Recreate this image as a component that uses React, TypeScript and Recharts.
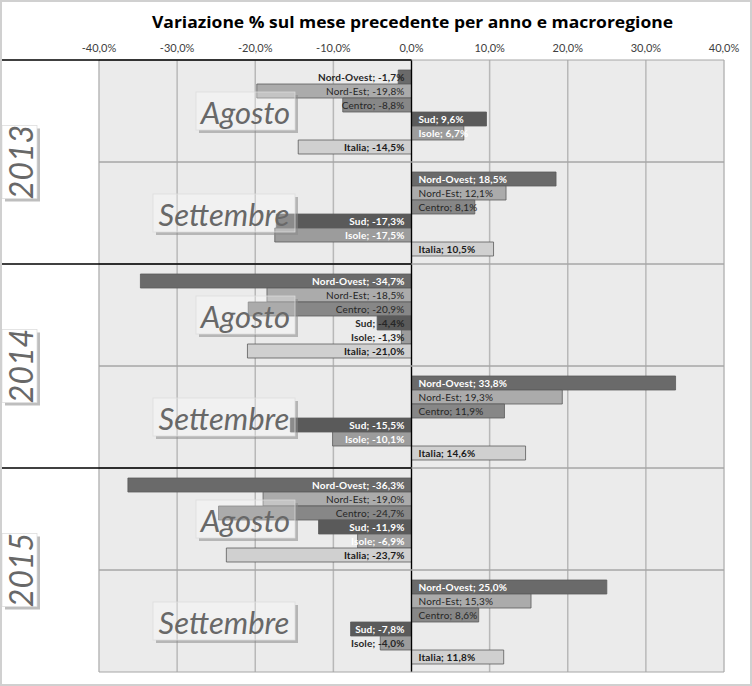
import React from "react";
import { BarChart, Bar, XAxis, YAxis, CartesianGrid, LabelList, ReferenceLine } from "recharts";

const FONT = "Lato, 'Open Sans', sans-serif";
const TITLE_FONT = "'Open Sans', Lato, sans-serif";

const years = ["2013", "2013", "2014", "2014", "2015", "2015"];
const months = ["Agosto", "Settembre", "Agosto", "Settembre", "Agosto", "Settembre"];
const seriesNames = ["Nord-Ovest", "Nord-Est", "Centro", "Sud", "Isole", "Italia"];

const nordOvest = [-1.7, 18.5, -34.7, 33.8, -36.3, 25.0];
const nordEst = [-19.8, 12.1, -18.5, 19.3, -19.0, 15.3];
const centro = [-8.8, 8.1, -20.9, 11.9, -24.7, 8.6];
const sud = [9.6, -17.3, -4.4, -15.5, -11.9, -7.8];
const isole = [6.7, -17.5, -1.3, -10.1, -6.9, -4.0];
const italia = [-14.5, 10.5, -21.0, 14.6, -23.7, 11.8];

const xTicks = [-40, -30, -20, -10, 0, 10, 20, 30, 40];
const TITLE = "Variazione % sul mese precedente per anno e macroregione";

const seriesValues = [nordOvest, nordEst, centro, sud, isole, italia];

const data = years.map((y, i) => {
  const row: any = { id: `${y} ${months[i]}`, year: y, month: months[i] };
  seriesNames.forEach((s, k) => {
    row[s] = seriesValues[k][i];
  });
  return row;
});

const W = 752;
const H = 686;
const TOP = 60;
const BOTTOM = 14;
const PLOT_LEFT = 99;
const RIGHT = 28;
const X_AXIS_H = 20;
const Y_AXIS_W = 1;
const M = { top: TOP - X_AXIS_H, right: RIGHT, bottom: BOTTOM, left: PLOT_LEFT - 2 * Y_AXIS_W };
const PLOT_RIGHT = W - RIGHT;
const PLOT_H = H - TOP - BOTTOM;
const ZERO_X = (PLOT_LEFT + PLOT_RIGHT) / 2;
const BAND_H = PLOT_H / data.length;

const styles: Record<string, { fill: string; text: string; bold: boolean }> = {
  "Nord-Ovest": { fill: "#6a6a6a", text: "#ffffff", bold: true },
  "Nord-Est": { fill: "#ababab", text: "#262626", bold: false },
  Centro: { fill: "#878787", text: "#262626", bold: false },
  Sud: { fill: "#5a5a5a", text: "#ffffff", bold: true },
  Isole: { fill: "#9c9c9c", text: "#ffffff", bold: true },
  Italia: { fill: "#d0d0d0", text: "#1a1a1a", bold: true },
};

const fmt = (v: number) => `${v.toFixed(1).replace(".", ",")}%`;

const makeLabel = (name: string) => (props: any) => {
  const vb = props.viewBox && props.viewBox.x != null ? props.viewBox : props;
  const { x, y, width, height } = vb;
  const v = Number(props.value);
  if (x == null || isNaN(v)) return null;
  const left = Math.min(x, x + width);
  const right = Math.max(x, x + width);
  const neg = v < 0;
  const base = neg ? right : left;
  const st = styles[name];
  let color = st.text;
  if (st.text === "#ffffff" && Math.abs(v) < 5) color = "#262626";
  return (
    <text
      x={neg ? base - 7 : base + 7}
      y={y + height / 2}
      textAnchor={neg ? "end" : "start"}
      dominantBaseline="central"
      fill={color}
      fontWeight={st.bold ? 700 : 400}
      fontSize={10}
      letterSpacing={0.15}
      fontFamily={FONT}
    >
      {`${name}; ${fmt(v)}`}
    </text>
  );
};

const MONTH_BOX_W: Record<string, number> = { Agosto: 99, Settembre: 142 };
const BOX_RIGHT = PLOT_LEFT + 196;

const Shadow = ({ x, y, w, h }: { x: number; y: number; w: number; h: number }) => (
  <g fill="#8a8a8a" opacity={0.55}>
    <rect x={x + w} y={y + 3} width={3} height={h} />
    <rect x={x + 3} y={y + h} width={w - 3} height={3} />
  </g>
);

const renderMonthTick = (props: any) => {
  const { y, payload } = props;
  const idx = payload?.index ?? props.index ?? 0;
  const row = data[idx];
  if (!row) return <g />;
  const half = BAND_H / 2;
  const w = MONTH_BOX_W[row.month] ?? 100;
  const h = 38;
  const x0 = BOX_RIGHT - w;
  const y0 = y - h / 2;
  return (
    <g key={`m-${idx}`}>
      <line x1={PLOT_LEFT} x2={PLOT_RIGHT} y1={y - half} y2={y - half} stroke="#a6a6a6" strokeWidth={1} />
      <line x1={PLOT_LEFT} x2={PLOT_RIGHT} y1={y + half} y2={y + half} stroke="#a6a6a6" strokeWidth={1} />
      <Shadow x={x0} y={y0} w={w} h={h} />
      <rect x={x0} y={y0} width={w} height={h} fill="#ffffff" fillOpacity={0.3} stroke="#dcdcdc" strokeWidth={0.75} />
      <text
        x={x0 + w / 2}
        y={y + 1}
        textAnchor="middle"
        dominantBaseline="central"
        fontFamily={FONT}
        fontStyle="italic"
        fontWeight={400}
        fontSize={31}
        fill="#686868"
      >
        {row.month}
      </text>
    </g>
  );
};

const renderYearTick = (props: any) => {
  const { y, payload } = props;
  const yearCount = new Set(years).size;
  const half = PLOT_H / yearCount / 2;
  const w = 35;
  const h = 73;
  const x0 = 2;
  const y0 = y - h / 2;
  const cx = x0 + w / 2 + 1;
  return (
    <g key={`y-${payload.value}`}>
      <line x1={0} x2={ZERO_X} y1={y - half} y2={y - half} stroke="#000" strokeWidth={1.3} />
      <Shadow x={x0} y={y0} w={w} h={h} />
      <rect x={x0} y={y0} width={w} height={h} fill="#ffffff" stroke="#dcdcdc" strokeWidth={0.75} />
      <text
        x={cx}
        y={y}
        transform={`rotate(-90 ${cx} ${y})`}
        textAnchor="middle"
        dominantBaseline="central"
        fontFamily={FONT}
        fontStyle="italic"
        fontWeight={400}
        fontSize={32}
        fill="#686868"
      >
        {payload.value}
      </text>
    </g>
  );
};

const renderXTick = (props: any) => {
  const { x, payload } = props;
  return (
    <text key={`x-${payload.value}`} x={x} y={TOP - 8} textAnchor="middle" fontFamily={FONT} fontSize={11} fill="#404040">
      {fmt(Number(payload.value))}
    </text>
  );
};

export default function App() {
  return (
    <div style={{ position: "absolute", left: 0, top: 0, width: W, height: H, background: "#fff" }}>
      <BarChart
        width={W}
        height={H}
        data={data}
        layout="vertical"
        margin={M}
        barCategoryGap={10}
        barGap={0}
        style={{ fontFamily: FONT }}
      >
        <CartesianGrid fill="#ebebeb" horizontal={false} stroke="#b8b8b8" strokeWidth={1.5} />
        <XAxis
          type="number"
          orientation="top"
          domain={[-40, 40]}
          ticks={xTicks}
          axisLine={false}
          tickLine={false}
          height={X_AXIS_H}
          tick={renderXTick}
          interval={0}
        />
        {seriesNames.map((s) => (
          <Bar
            key={s}
            dataKey={s}
            fill={styles[s].fill}
            stroke="#5c5c5c"
            strokeWidth={0.8}
            isAnimationActive={false}
          >
            <LabelList dataKey={s} content={makeLabel(s)} />
          </Bar>
        ))}
        <ReferenceLine x={0} stroke="#000" strokeWidth={1.3} />
        <YAxis
          type="category"
          dataKey="id"
          width={Y_AXIS_W}
          axisLine={false}
          tickLine={false}
          interval={0}
          tick={renderMonthTick}
        />
        <YAxis
          yAxisId="year"
          type="category"
          dataKey="year"
          allowDuplicatedCategory={false}
          width={Y_AXIS_W}
          axisLine={false}
          tickLine={false}
          interval={0}
          tick={renderYearTick}
        />
      </BarChart>
      <svg width={W} height={H} style={{ position: "absolute", left: 0, top: 0, pointerEvents: "none" }}>
        <text
          x={152}
          y={28}
          textAnchor="start"
          textLength={521}
          lengthAdjust="spacingAndGlyphs"
          fontFamily={TITLE_FONT}
          fontWeight={700}
          fontSize={16}
          fill="#000"
        >
          {TITLE}
        </text>
      </svg>
      <div
        style={{
          position: "absolute",
          left: 0,
          top: 0,
          width: W,
          height: H,
          boxSizing: "border-box",
          border: "2px solid #d0d0d0",
          pointerEvents: "none",
        }}
      />
    </div>
  );
}
